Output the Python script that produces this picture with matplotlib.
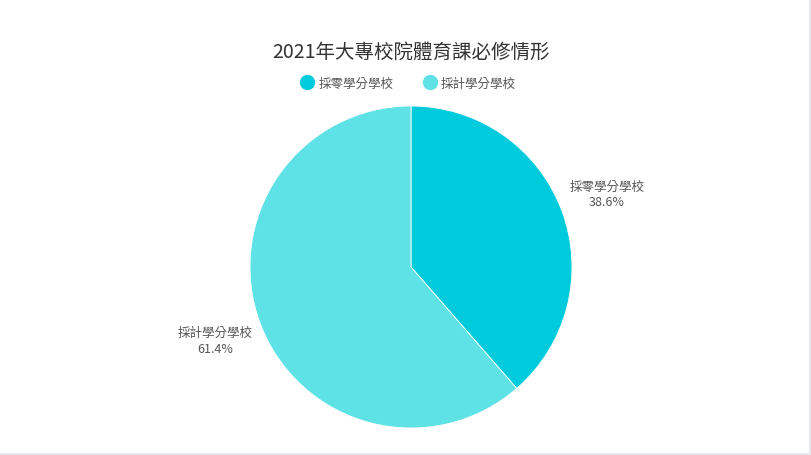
import matplotlib
matplotlib.use('Agg')
import matplotlib.pyplot as plt
from matplotlib.lines import Line2D

plt.rcParams['font.family'] = ['Noto Sans CJK TC', 'DejaVu Sans']

title = "2021年大專校院體育課必修情形"
categories = ["採零學分學校", "採計學分學校"]
shares = [38.6, 61.4]
colors = ["#00CBDC", "#5EE2E6"]

fig = plt.figure(figsize=(8.12, 4.56), dpi=100)
ax = fig.add_axes([250 / 812, 27 / 456, 322 / 812, 322 / 456])

labels = [c + "\n" + ("%.1f%%" % v) for c, v in zip(categories, shares)]
wedges, texts = ax.pie(shares, colors=colors, startangle=90, counterclock=False,
                       labels=labels, labeldistance=1.3,
                       wedgeprops=dict(linewidth=0.6, edgecolor='white'),
                       textprops=dict(fontsize=9, color='#555555', ha='center',
                                      va='center', linespacing=1.25))
ax.set_aspect('equal')
ax.set_xlim(-1, 1)
ax.set_ylim(-1, 1)

fig.text(0.506, 0.886, title, ha='center', va='center', fontsize=14, color='#333333')

handles = [Line2D([], [], marker='o', linestyle='none', markersize=10,
                  markerfacecolor=c, markeredgecolor=c) for c in colors]
fig.legend(handles, categories, loc='center', bbox_to_anchor=(0.503, 0.815),
           ncol=2, frameon=False, fontsize=9, labelcolor='#555555',
           handletextpad=0.4, columnspacing=2.4, handlelength=1.0)

# light frame on right and bottom edges
fig.add_artist(Line2D([0, 1], [0.002, 0.002], color='#e6e8ec', linewidth=1.5, transform=fig.transFigure))
fig.add_artist(Line2D([0.998, 0.998], [0, 1], color='#e6e8ec', linewidth=1.5, transform=fig.transFigure))

fig.savefig("out.png", dpi=100, facecolor='white')
